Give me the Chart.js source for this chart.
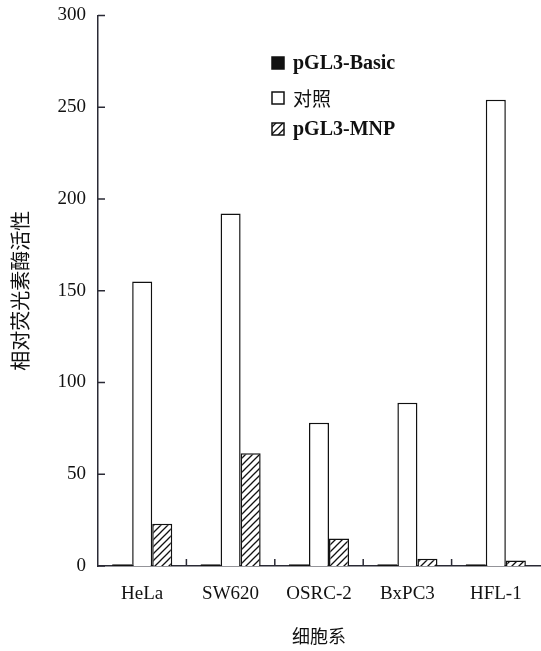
<!DOCTYPE html>
<html><head><meta charset="utf-8">
<script src="https://cdn.jsdelivr.net/npm/chart.js@4.4.1/dist/chart.umd.min.js"></script>
<style>html,body{margin:0;padding:0;background:#fff;}#wrap{width:541px;height:651px;}</style>
</head><body><div id="wrap"><canvas id="c" width="541" height="651"></canvas></div>
<script>
const categories = ['HeLa', 'SW620', 'OSRC-2', 'BxPC3', 'HFL-1'];
const seriesNames = ['pGL3-Basic', '对照', 'pGL3-MNP'];
const basicValues = [1, 1, 1, 1, 1];
const controlValues = [155, 192, 78, 89, 254];
const mnpValues = [23, 61.5, 15, 4, 3];
const yTicks = [0, 50, 100, 150, 200, 250, 300];

function hatch() {
  const p = document.createElement('canvas');
  p.width = 7; p.height = 7;
  const g = p.getContext('2d');
  g.fillStyle = '#fff'; g.fillRect(0,0,7,7);
  g.strokeStyle = '#111'; g.lineWidth = 1.3;
  g.beginPath();
  g.moveTo(-1, 8); g.lineTo(8, -1);
  g.moveTo(-1, 1); g.lineTo(1, -1);
  g.moveTo(6, 8); g.lineTo(8, 6);
  g.stroke();
  return g.createPattern(p, 'repeat');
}
const ctx = document.getElementById('c').getContext('2d');
const hatchPat = hatch();
const fills = ['#111', '#fff', hatchPat];
const serif = "'Liberation Serif', 'DejaVu Serif', serif";
const cjk = "'Noto Sans CJK SC', sans-serif";

const decor = {
  id: 'decor',
  afterDraw(chart) {
    const c = chart.ctx, a = chart.chartArea;
    const xs = chart.scales.x, ys = chart.scales.y;
    c.save();
    c.strokeStyle = '#2a2a35'; c.lineWidth = 1.5;
    c.beginPath();
    yTicks.forEach(v => { const y = ys.getPixelForValue(v); c.moveTo(a.left, y); c.lineTo(a.left + 7, y); });
    for (let i = 1; i < categories.length; i++) {
      const x = (xs.getPixelForValue(i - 1) + xs.getPixelForValue(i)) / 2;
      c.moveTo(x, a.bottom); c.lineTo(x, a.bottom - 7);
    }
    c.stroke();
    // legend
    const lx = 272, ly = [63, 98, 129];
    chart.data.datasets.forEach((ds, i) => {
      c.fillStyle = fills[i];
      c.fillRect(lx, ly[i] - 6, 12, 12);
      c.strokeStyle = '#111'; c.lineWidth = 1.5;
      c.strokeRect(lx, ly[i] - 6, 12, 12);
      c.fillStyle = '#111';
      c.textBaseline = 'middle'; c.textAlign = 'left';
      c.font = (i === 1 ? "19px " + cjk : "bold 20px " + serif);
      c.fillText(ds.label, lx + 21, ly[i] + 1);
    });
    c.restore();
  }
};

new Chart(ctx, {
  type: 'bar',
  data: {
    labels: categories,
    datasets: [
      { label: seriesNames[0], data: basicValues, backgroundColor: fills[0], borderColor: '#111', borderWidth: 1.5 },
      { label: seriesNames[1], data: controlValues, backgroundColor: fills[1], borderColor: '#111', borderWidth: 1.5 },
      { label: seriesNames[2], data: mnpValues, backgroundColor: fills[2], borderColor: '#111', borderWidth: 1.5 }
    ]
  },
  options: {
    responsive: false, animation: false,
    layout: { padding: { top: 8, right: 1, left: 0, bottom: 0 } },
    datasets: { bar: { categoryPercentage: 0.68, barPercentage: 1 } },
    plugins: { legend: { display: false }, tooltip: { enabled: false } },
    scales: {
      x: {
        grid: { display: false },
        border: { display: true, color: '#2a2a35', width: 1.5 },
        ticks: { color: '#111', font: { family: serif, size: 19 }, padding: 9 },
        title: { display: true, text: '细胞系', color: '#111', font: { family: cjk, size: 18 }, padding: { top: 10, bottom: 4 } },
        afterFit(s) { s.height = 85; }
      },
      y: {
        min: 0, max: 300,
        afterBuildTicks(s) { s.ticks = yTicks.map(v => ({ value: v })); },
        grid: { display: false },
        border: { display: true, color: '#2a2a35', width: 1.5 },
        ticks: { color: '#111', font: { family: serif, size: 19 }, padding: 4 },
        title: { display: true, text: '相对荧光素酶活性', color: '#111', font: { family: cjk, size: 20 }, padding: { top: 8, bottom: 6 } },
        afterFit(s) { s.width = 98; }
      }
    }
  },
  plugins: [decor]
});
</script></body></html>
